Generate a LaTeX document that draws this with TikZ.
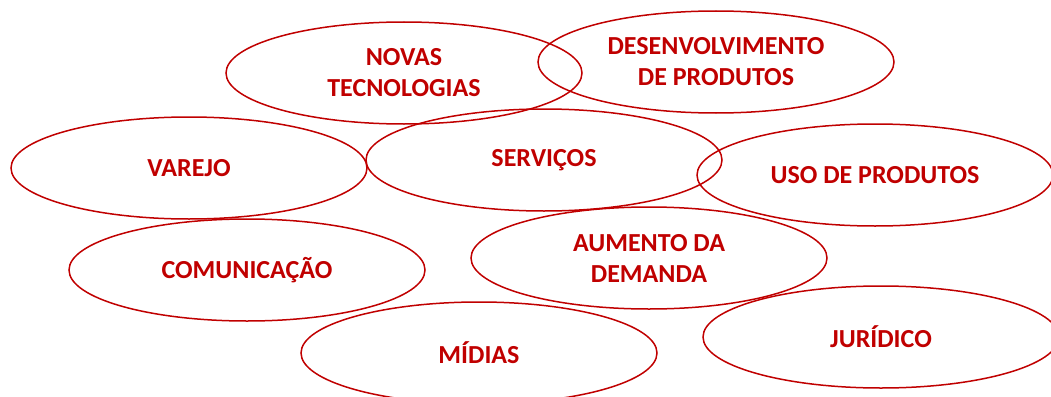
\documentclass[tikz,border=0pt]{standalone}
\usepackage{fontspec}
\setmainfont{Carlito}
\usetikzlibrary{shapes.geometric}
\definecolor{redline}{HTML}{C00000}

\begin{document}
\begin{tikzpicture}[x=1pt, y=-1pt,
  area/.style={draw=redline, line width=1.5pt, ellipse, inner sep=0pt,
    minimum width=356pt, minimum height=102pt,
    text=redline, align=center, font=\fontsize{26}{31}\selectfont\bfseries}]

\clip (0,0) rectangle (1051,396);
\useasboundingbox (0,0) rectangle (1051,396);

\node[area] (novas)  at (404,73)  {NOVAS\\TECNOLOGIAS};
\node[area] (desenv) at (716,62)  {DESENVOLVIMENTO\\DE PRODUTOS};
\node[area] (varejo) at (189,168) {VAREJO};
\node[area] (serv)   at (544,160) {SERVIÇOS};
\node[area] (uso)    at (875,175) {USO DE PRODUTOS};
\node[area] (comun)  at (247,270) {COMUNICAÇÃO};
\node[area] (demand) at (649,258) {AUMENTO DA\\DEMANDA};
\node[area] (midias) at (479,353) {MÍDIAS};
\node[area] (jurid)  at (881,337) {JURÍDICO};
\end{tikzpicture}
\end{document}
